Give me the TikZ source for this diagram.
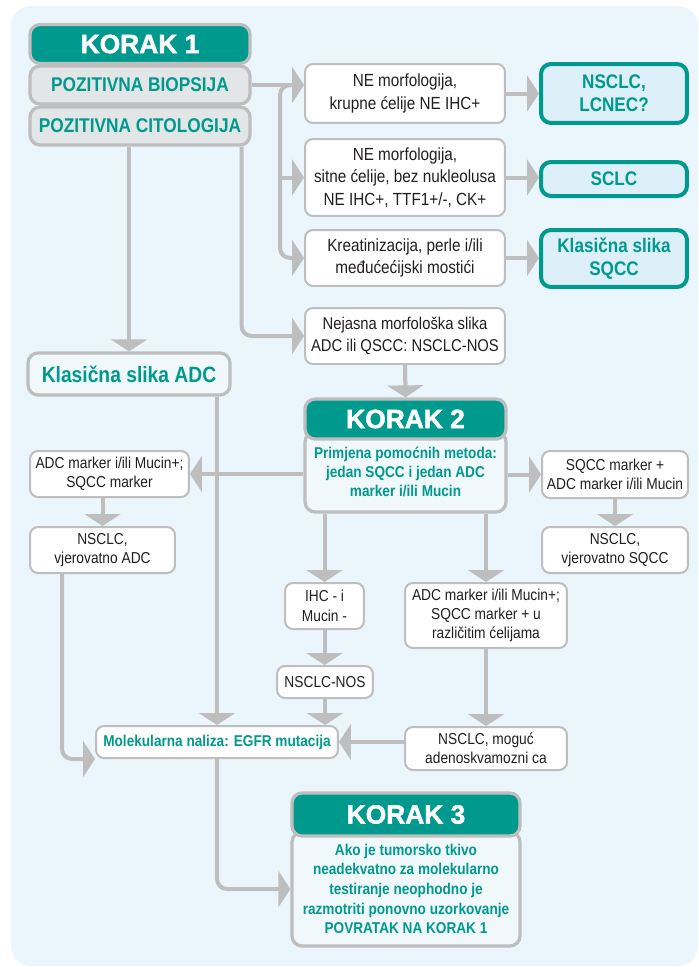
\documentclass[tikz,border=0pt]{standalone}
\usepackage{fontspec}
\setmainfont{Liberation Sans}[FakeStretch=0.87]
\newfontfamily\korakfont{Liberation Sans}[FakeBold=1.8]
\usetikzlibrary{arrows.meta}
\definecolor{korakteal}{HTML}{00998E}
\definecolor{linegrey}{HTML}{BEBEBE}
\definecolor{bgblue}{HTML}{EAF5FC}
\definecolor{paleblue}{HTML}{DDF0FA}
\definecolor{posgrey}{HTML}{E3E6E6}
\definecolor{bodyfill}{HTML}{F1F8FC}
\definecolor{inkgrey}{HTML}{231F20}

\begin{document}
\begin{tikzpicture}[x=0.02cm, y=-0.02cm,
  link/.style={draw=linegrey, line width=0.08cm, -{Triangle[length=0.24cm,width=0.72cm]}},
  elbow/.style={link, rounded corners=0.2cm},
  plain/.style={rectangle, rounded corners=0.16cm, draw=linegrey, line width=0.04cm, fill=white, align=center, inner sep=0pt, text=inkgrey, font=\fontsize{9}{11}\selectfont},
  topplain/.style={plain, font=\fontsize{10}{12.8}\selectfont},
  header/.style={rectangle, rounded corners=0.2cm, draw=linegrey, line width=0.065cm, fill=korakteal, text=white, inner sep=0pt, font=\korakfont\bfseries\fontsize{15}{17}\selectfont},
  greybox/.style={rectangle, rounded corners=0.2cm, draw=linegrey, line width=0.065cm, fill=posgrey, text=korakteal, inner sep=0pt, font=\bfseries\fontsize{11.3}{13}\selectfont},
  outcome/.style={rectangle, rounded corners=0.2cm, draw=korakteal, line width=0.08cm, fill=paleblue, text=korakteal, align=center, inner sep=0pt, font=\bfseries\fontsize{11.2}{13}\selectfont},
  stepbody/.style={rectangle, rounded corners=0.2cm, draw=linegrey, line width=0.065cm, fill=bodyfill, text=korakteal, align=center, inner sep=0pt, font=\bfseries\fontsize{8.9}{10.8}\selectfont},
]
\useasboundingbox (0,0) rectangle (698,967);
\fill[bgblue, rounded corners=0.4cm] (11,6) rectangle (698,966);

% korak 1
\node at (140,44) (korak1) [header, minimum width=4.4cm, minimum height=0.78cm] {KORAK 1};
\node at (140,85) (biopsija) [greybox, minimum width=4.4cm, minimum height=0.76cm] {POZITIVNA BIOPSIJA};
\node at (140,126) (citologija) [greybox, minimum width=4.4cm, minimum height=0.76cm] {POZITIVNA CITOLOGIJA};

\node at (405,93.5) (ne1) [topplain, minimum width=4cm, minimum height=1.18cm] {NE morfologija,\\krupne ćelije NE IHC+};
\node at (405,177.5) (ne2) [topplain, minimum width=4cm, minimum height=1.54cm] {NE morfologija,\\sitne ćelije, bez nukleolusa\\NE IHC+, TTF1+/-, CK+};
\node at (405,258) (kreat) [topplain, minimum width=4cm, minimum height=1.12cm] {Kreatinizacija, perle i/ili\\međućećijski mostići};
\node at (614,93.5) (lcnec) [outcome, minimum width=2.92cm, minimum height=1.18cm] {NSCLC,\\LCNEC?};
\node at (614,179) (sclc) [outcome, minimum width=2.92cm, minimum height=0.68cm] {SCLC};
\node at (614,258.5) (sqcc) [outcome, minimum width=2.92cm, minimum height=1.14cm] {Klasična slika\\SQCC};

\node at (405,336) (nejasna) [topplain, minimum width=4cm, minimum height=1.12cm, font=\fontsize{9.7}{12.5}\selectfont] {Nejasna morfološka slika\\ADC ili QSCC: NSCLC-NOS};
\node at (129,374) (adc) [greybox, fill=bodyfill, minimum width=4.04cm, minimum height=0.84cm, font=\bfseries\fontsize{12.6}{15}\selectfont] {Klasična slika ADC};

% korak 2
\node at (405.5,472) (metode) [stepbody, minimum width=4.02cm, minimum height=1.6cm] {Primjena pomoćnih metoda:\\jedan SQCC i jedan ADC\\marker i/ili Mucin};
\node at (405.5,419) (korak2) [header, minimum width=4.02cm, minimum height=0.8cm] {KORAK 2};

\node at (109.5,474) (adcm) [plain, minimum width=3.18cm, minimum height=0.92cm] {ADC marker i/ili Mucin+;\\SQCC marker};
\node at (102.5,550) (vadc) [plain, minimum width=2.9cm, minimum height=0.92cm] {NSCLC,\\vjerovatno ADC};
\node at (615,474.5) (sqccm) [plain, minimum width=2.92cm, minimum height=0.94cm] {SQCC marker +\\ADC marker i/ili Mucin};
\node at (615,550) (vsqcc) [plain, minimum width=2.92cm, minimum height=0.92cm] {NSCLC,\\vjerovatno SQCC};
\node at (324.5,606) (ihc) [plain, minimum width=1.58cm, minimum height=0.92cm] {IHC - i\\Mucin -};
\node at (486,615.5) (mix) [plain, minimum width=3.24cm, minimum height=1.3cm] {ADC marker i/ili Mucin+;\\SQCC marker + u\\različitim ćelijama};
\node at (325,682) (nos) [plain, minimum width=1.92cm, minimum height=0.64cm] {NSCLC-NOS};
\node at (217,742) (mol) [plain, minimum width=4.84cm, minimum height=0.64cm, text=korakteal, font=\bfseries\fontsize{8.9}{10.8}\selectfont] {Molekularna naliza: EGFR mutacija};
\node at (486,748.5) (adsq) [plain, minimum width=3.24cm, minimum height=0.86cm] {NSCLC, moguć\\adenoskvamozni ca};

% korak 3
\node at (406,889) (uzorak) [stepbody, minimum width=4.56cm, minimum height=2.28cm, font=\bfseries\fontsize{8.9}{11.2}\selectfont] {Ako je tumorsko tkivo\\neadekvatno za molekularno\\testiranje neophodno je\\razmotriti ponovno uzorkovanje\\POVRATAK NA KORAK 1};
\node at (406,814.5) (korak3) [header, minimum width=4.56cm, minimum height=0.86cm] {KORAK 3};

\coordinate (fork) at (292,85);
\coordinate (split) at (280,85);
\draw [link] (biopsija.east) -- (biopsija.east -| ne1.west);
\draw [elbow] (fork) -| (kreat.west -| split) -- (kreat.west);
\draw [link] (split |- ne2.west) -- (ne2.west);
\draw [link] (ne1.east) -- (lcnec.west);
\draw [link] (ne2.east) -- (ne2.east -| sclc.west);
\draw [link] (kreat.east) -- (kreat.east -| sqcc.west);
\draw [link] (citologija.south -| adc.north) -- (adc.north);
\draw [elbow] ([xshift=-0.2cm]citologija.south east) |- (nejasna.west);
\draw [link] (nejasna.south) -- (korak2.north);
\draw [link] (metode.west |- adcm.east) -- (adcm.east);
\draw [link] (metode.east |- sqccm.west) -- (sqccm.west);
\draw [link] (adcm.south -| vadc.north) -- (vadc.north);
\draw [link] (sqccm.south) -- (vsqcc.north);
\draw [elbow] ([xshift=-0.81cm]vadc.south) |- (mol.south west);
\draw [link] (adc.south -| mol.north) -- (mol.north);
\draw [link] (metode.south -| ihc.north) -- (ihc.north);
\draw [link] (metode.south -| mix.north) -- (mix.north);
\draw [link] (ihc.south) -- (ihc.south |- nos.north);
\draw [link] (nos.south) -- (nos.south |- mol.north);
\draw [link] (mix.south) -- (adsq.north);
\draw [link] (adsq.west |- mol.east) -- (mol.east);
\draw [elbow] (mol.south) |- (uzorak.west);
\end{tikzpicture}
\end{document}
